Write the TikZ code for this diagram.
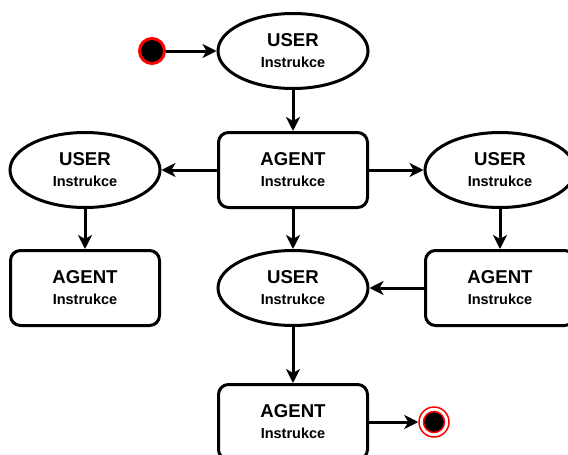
\documentclass[tikz,border=0pt]{standalone}
\usepackage{fontspec}
\setmainfont{Liberation Sans}
\usetikzlibrary{shapes.geometric,arrows.meta}
\tikzset{
  txt/.style={align=center,font=\fontsize{14.5}{21}\selectfont\bfseries},
  userell/.style={ellipse,draw,line width=3pt,minimum width=150pt,minimum height=75pt,inner sep=0pt,fill=white,txt},
  agentbox/.style={rectangle,draw,line width=3pt,rounded corners=10pt,minimum width=149pt,minimum height=75pt,inner sep=0pt,fill=white,txt},
  conn/.style={line width=3pt,-{Stealth[length=14pt,width=14pt,inset=4pt]}},
  startdot/.style={circle,fill=black,draw=red,line width=3pt,minimum size=25pt,inner sep=0pt},
  endring/.style={circle,fill=white,draw=red,line width=1.5pt,minimum size=30pt,inner sep=0pt},
}
\newcommand{\twolines}[1]{{\fontsize{18.6}{21}\selectfont #1}\\Instrukce}
\begin{document}
\begin{tikzpicture}[x=1pt,y=-1pt]
\useasboundingbox (0,0) rectangle (568,455);
\node[startdot] (start) at (152,51) {};
\node[userell] (u1) at (293,51) {\twolines{USER}};
\node[agentbox] (a1) at (293,170) {\twolines{AGENT}};
\node[userell] (u2) at (85,170) {\twolines{USER}};
\node[agentbox] (a2) at (85,288) {\twolines{AGENT}};
\node[userell] (u3) at (500,170) {\twolines{USER}};
\node[agentbox] (a3) at (500,288) {\twolines{AGENT}};
\node[userell] (u4) at (293,288) {\twolines{USER}};
\node[agentbox] (a4) at (293,422) {\twolines{AGENT}};
\node[endring] (end) at (434,422) {};
\fill[black,draw=red,line width=1.5pt] (end.center) circle (10.5pt);
\draw[conn] (start) -- (u1);
\draw[conn] (u1) -- (a1);
\draw[conn] (a1) -- (u2);
\draw[conn] (a1) -- (u3);
\draw[conn] (a1) -- (u4);
\draw[conn] (u2) -- (a2);
\draw[conn] (u3) -- (a3);
\draw[conn] (a3) -- (u4);
\draw[conn] (u4) -- (a4);
\draw[conn] (a4) -- (end);
\end{tikzpicture}
\end{document}
